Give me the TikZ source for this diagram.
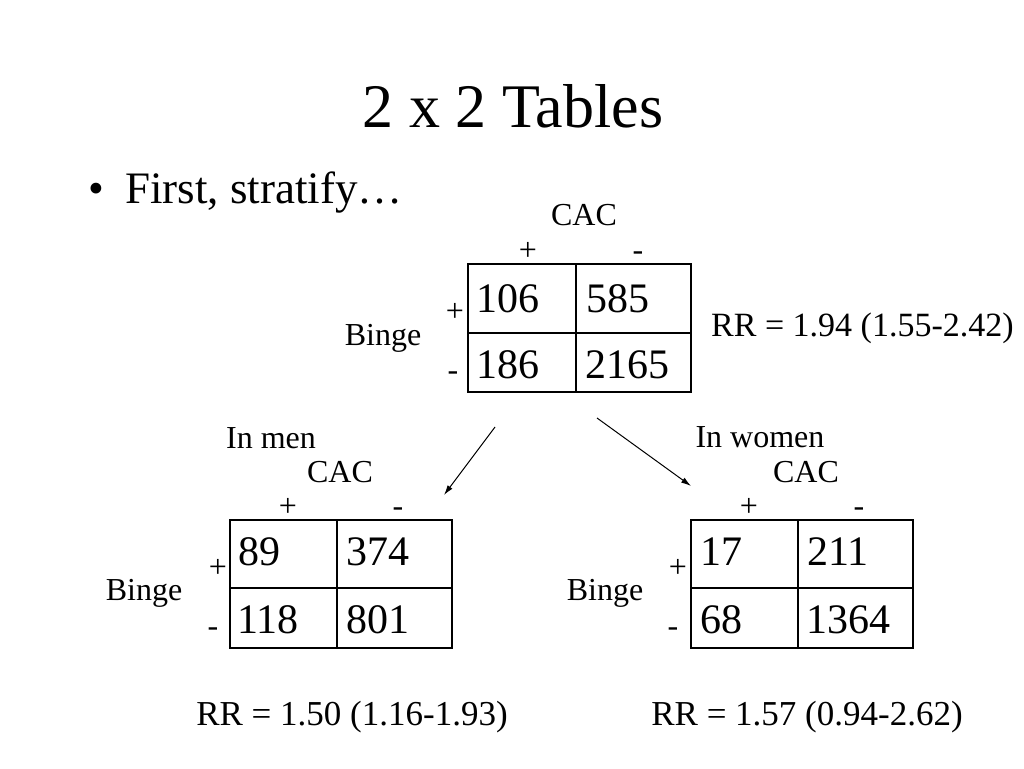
\documentclass[tikz,border=0pt]{standalone}
\usepackage{fontspec}
\setmainfont{Liberation Serif}
\usepackage{tikz}
\usetikzlibrary{arrows.meta}

\begin{document}
\begin{tikzpicture}[x=1pt,y=-1pt,
	lbl/.style={font=\fontsize{32}{38}\selectfont,inner sep=0pt,anchor=base},
	num/.style={font=\fontsize{42}{48}\selectfont,inner sep=0pt,anchor=base west},
	rr/.style={font=\fontsize{34}{40}\selectfont,inner sep=0pt,anchor=base},
	tab/.style={line width=1.3pt},
	arr/.style={line width=1pt,-{Latex[length=10pt,width=6pt]}}]
			\useasboundingbox[fill=white] (0,0) rectangle (1024,768);
			% title and bullet
			\node[inner sep=0pt,anchor=base,font=\fontsize{62}{70}\selectfont] (title) at (513,127) {2 x 2 Tables};
			\node[inner sep=0pt,anchor=base west,font=\fontsize{45}{52}\selectfont] (first) at (88,203) {\makebox[37pt][l]{•}First, stratify…};
			% whole table
			\draw[tab] (468,264) rectangle (691,392);
			\draw[tab] (576,264) -- (576,392);
			\draw[tab] (468,333) -- (691,333);
			\node[lbl] (cacA) at (584,225) {CAC};
			\node[lbl] (cpA) at (528,260) {+};
			\node[lbl] (cmA) at (638,260) {-};
			\node[lbl] (bingeA) at (383,345) {Binge};
			\node[lbl] (bpA) at (455,321) {+};
			\node[lbl] (bmA) at (453,380) {-};
			\node[num] (nA1) at (476,312) {106};
			\node[num] (nA2) at (586,312) {585};
			\node[num] (nA3) at (476,378) {186};
			\node[num] (nA4) at (585,378) {2165};
			\node[rr,anchor=base west] (rrA) at (711,336) {RR = 1.94 (1.55-2.42)};
			% arrows
			\coordinate (menS) at (495,427);
			\coordinate (menE) at (444,495);
			\coordinate (womS) at (597,418);
			\coordinate (womE) at (691,486);
			\draw[arr] (menS) -- (menE);
			\draw[arr] (womS) -- (womE);
			% men
			\draw[tab] (230,520) rectangle (452,648);
			\draw[tab] (337,520) -- (337,648);
			\draw[tab] (230,588) -- (452,588);
			\node[lbl] (men) at (271,448) {In men};
			\node[lbl] (cacM) at (340,482) {CAC};
			\node[lbl] (cpM) at (288,516) {+};
			\node[lbl] (cmM) at (398,516) {-};
			\node[lbl] (bingeM) at (144,600) {Binge};
			\node[lbl] (bpM) at (218,577) {+};
			\node[lbl] (bmM) at (213,636) {-};
			\node[num] (nM1) at (238,565) {89};
			\node[num] (nM2) at (346,565) {374};
			\node[num] (nM3) at (237,633) {118};
			\node[num] (nM4) at (346,633) {801};
			\node[rr,font=\fontsize{35}{40}\selectfont] (rrM) at (352,725) {RR = 1.50 (1.16-1.93)};
			% women
			\draw[tab] (691,520) rectangle (913,648);
			\draw[tab] (798,520) -- (798,648);
			\draw[tab] (691,588) -- (913,588);
			\node[lbl] (wom) at (760,447) {In women};
			\node[lbl] (cacW) at (806,482) {CAC};
			\node[lbl] (cpW) at (749,516) {+};
			\node[lbl] (cmW) at (859,516) {-};
			\node[lbl] (bingeW) at (605,600) {Binge};
			\node[lbl] (bpW) at (678,577) {+};
			\node[lbl] (bmW) at (673,636) {-};
			\node[num] (nW1) at (700,565) {17};
			\node[num] (nW2) at (807,565) {211};
			\node[num] (nW3) at (700,633) {68};
			\node[num] (nW4) at (806,633) {1364};
			\node[rr,font=\fontsize{35}{40}\selectfont] (rrW) at (807,725) {RR = 1.57 (0.94-2.62)};
		\end{tikzpicture}
\end{document}
